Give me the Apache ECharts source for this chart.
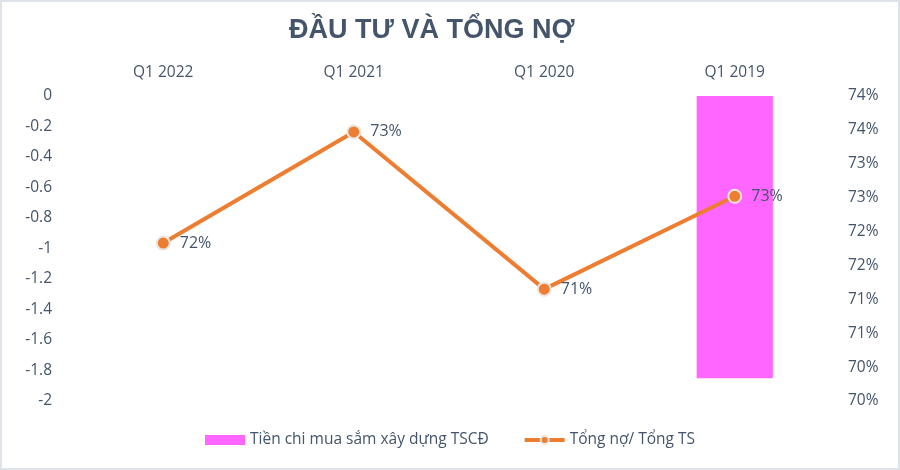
<!DOCTYPE html>
<html><head><meta charset="utf-8">
<script src="https://cdn.jsdelivr.net/npm/echarts@6/dist/echarts.min.js"></script>
<style>
html,body{margin:0;padding:0;background:#fff;}
#wrap{width:900px;height:470px;box-sizing:border-box;border:2px solid #DEE3EA;background:#fff;}
#c{width:896px;height:466px;}
</style></head>
<body><div id="wrap"><div id="c"></div></div>
<script>
const categories = ['Q1 2022', 'Q1 2021', 'Q1 2020', 'Q1 2019'];
const capexValues = [null, null, null, -1.85];
const debtRatioValues = [71.83, 73.47, 71.15, 72.52];
const leftTicks = {min: -2, max: 0, interval: 0.2};
const rightTicks = {min: 69.5, max: 74, interval: 0.5};

const txt = '#44546A';
const font = 'Open Sans';
const chart = echarts.init(document.getElementById('c'));
chart.setOption({
  animation: false,
  title: {
    text: 'ĐẦU TƯ VÀ TỔNG NỢ', left: 282, top: 10,
    textStyle: {fontFamily: 'Liberation Sans', fontWeight: 'bold', fontSize: 27, color: txt}
  },
  grid: {left: 66, right: 68, top: 94, bottom: 67},
  legend: {
    bottom: 15, left: 'center', itemGap: 34, itemWidth: 40, itemHeight: 10,
    textStyle: {fontFamily: font, fontSize: 15.5, color: txt},
    data: [
      {name: 'Tiền chi mua sắm xây dựng TSCĐ', icon: 'rect'},
      {name: 'Tổng nợ/ Tổng TS', lineStyle: {width: 4}}
    ]
  },
  xAxis: {
    type: 'category', data: categories, position: 'top',
    axisLine: {show: false}, axisTick: {show: false},
    axisLabel: {fontFamily: font, fontSize: 15.5, color: txt, margin: 15}
  },
  yAxis: [
    {
      type: 'value', min: leftTicks.min, max: leftTicks.max, interval: leftTicks.interval,
      splitLine: {show: false}, axisLine: {show: false}, axisTick: {show: false},
      axisLabel: {fontFamily: font, fontSize: 15.5, color: txt, margin: 16,
        formatter: v => String(Math.round(v * 10) / 10)}
    },
    {
      type: 'value', min: rightTicks.min, max: rightTicks.max, interval: rightTicks.interval,
      splitLine: {show: false}, axisLine: {show: false}, axisTick: {show: false},
      axisLabel: {fontFamily: font, fontSize: 15.5, color: txt, margin: 18,
        formatter: v => Math.round(v) + '%'}
    }
  ],
  series: [
    {
      name: 'Tiền chi mua sắm xây dựng TSCĐ', type: 'bar', yAxisIndex: 0,
      data: capexValues, barWidth: '40%', itemStyle: {color: '#FF66FF'}
    },
    {
      name: 'Tổng nợ/ Tổng TS', type: 'line', yAxisIndex: 1, data: debtRatioValues,
      lineStyle: {color: '#ED7D31', width: 4},
      itemStyle: {color: '#ED7D31', borderColor: '#EEE6DE', borderWidth: 2},
      symbol: 'circle', symbolSize: 13,
      label: {show: true, position: 'right', distance: 9, fontFamily: font, fontSize: 16, color: txt,
        formatter: p => Math.round(p.value) + '%'}
    }
  ]
});
</script></body></html>
